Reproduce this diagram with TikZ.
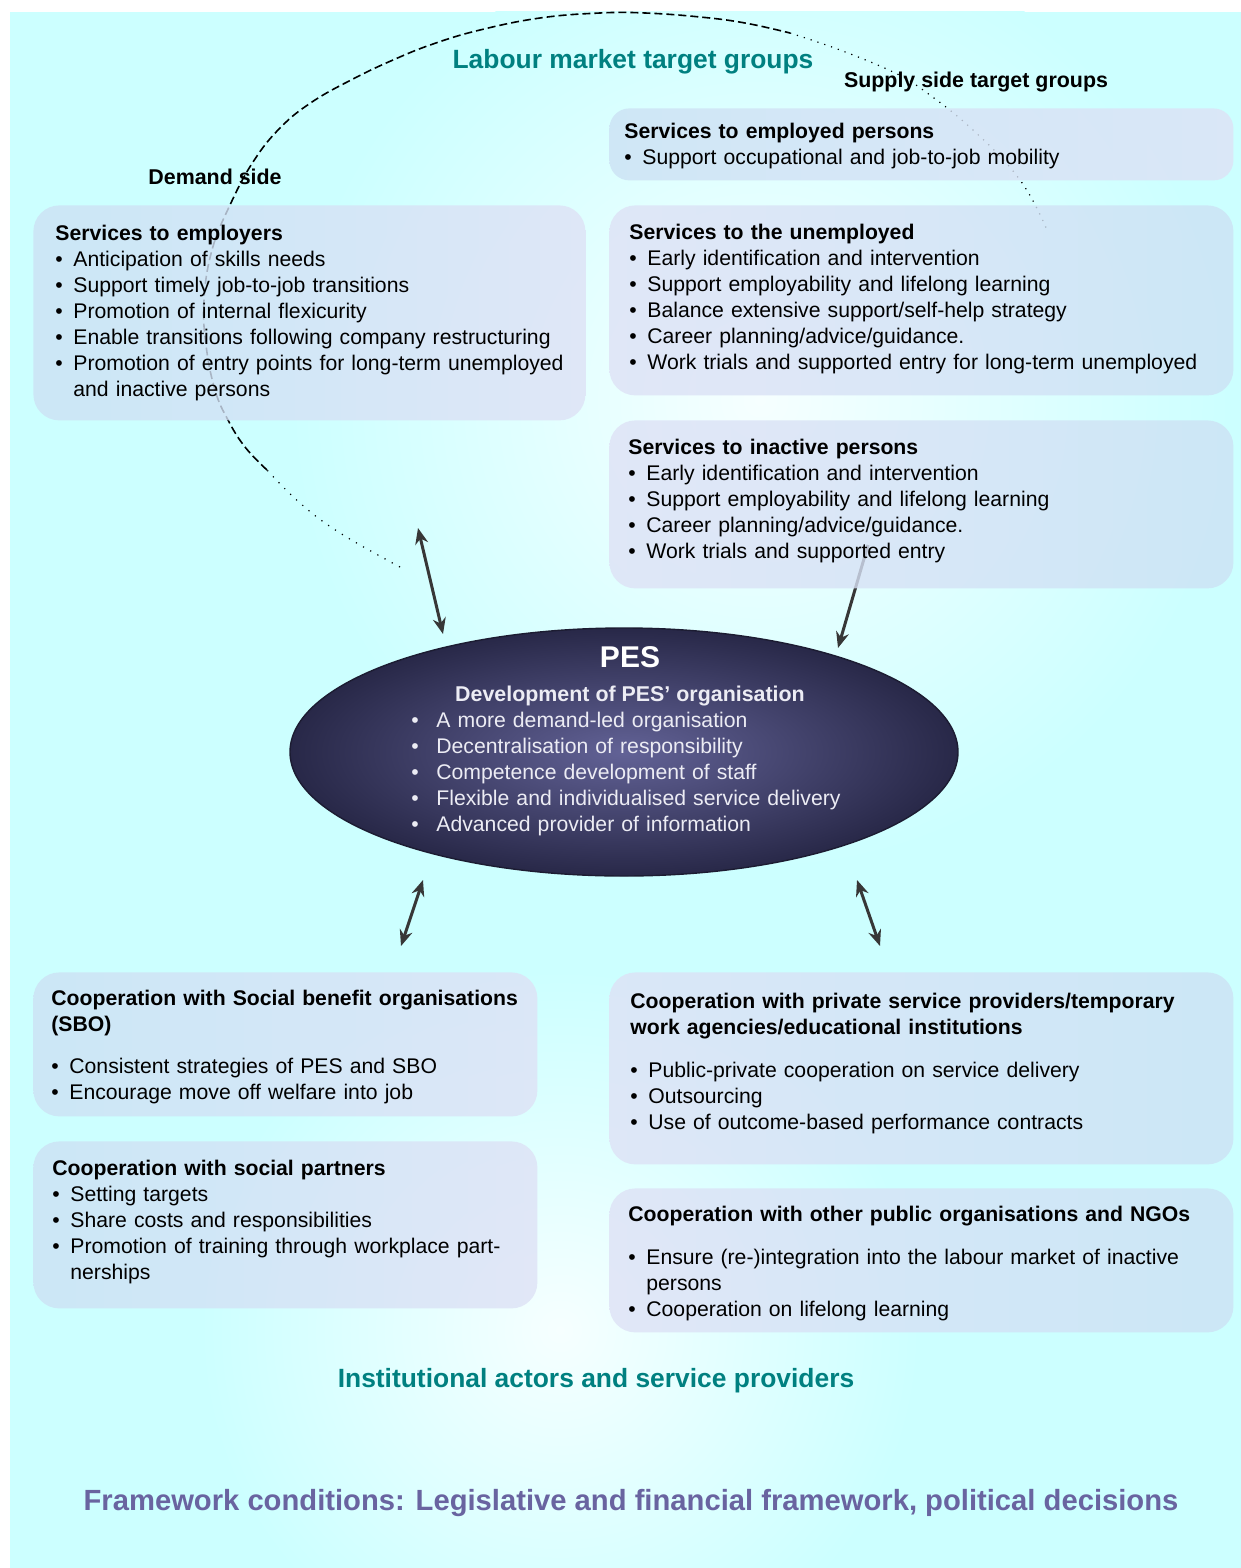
\documentclass[tikz,border=0pt]{standalone}
\usepackage{fontspec}
\setmainfont{Liberation Sans}
\usetikzlibrary{shapes.geometric,arrows.meta}
\definecolor{bgcyan}{RGB}{204,255,255}
\definecolor{glow}{RGB}{246,255,255}
\definecolor{boxblue}{RGB}{204,226,244}
\definecolor{boxlav}{RGB}{222,226,246}
\definecolor{pesin}{RGB}{98,98,150}
\definecolor{pesout}{RGB}{40,40,72}
\definecolor{tealtxt}{RGB}{0,128,128}
\definecolor{frametxt}{RGB}{105,100,160}
\definecolor{arrowgray}{RGB}{55,55,55}
\definecolor{pestxt}{RGB}{236,236,244}
\newcommand{\bitem}[1]{\par\hangindent=9pt\hangafter=1\noindent\makebox[9pt][l]{\textbullet}#1\par}
\newcommand{\eitem}[1]{\par\hangindent=12.5pt\hangafter=1\noindent\makebox[12.5pt][l]{\textbullet}#1\par}
\tikzstyle{svc}=[anchor=north west, inner sep=0pt, rounded corners=13pt,
    left color=boxblue, right color=boxlav, fill opacity=0.8]
\tikzstyle{svcr}=[svc, left color=boxlav, right color=boxblue]
\tikzstyle{svctext}=[anchor=north west, inner sep=0pt, align=left,
    font=\fontsize{10.6}{13}\selectfont]
\tikzstyle{pesell}=[ellipse, minimum width=334pt, minimum height=124pt,
    inner color=pesin, outer color=pesout, draw=pesout!70!black, line width=0.7pt]
\tikzstyle{link}=[draw=arrowgray, line width=1.5pt,
    {Stealth[length=8pt,width=6.5pt]}-{Stealth[length=8pt,width=6.5pt]}]
\tikzstyle{linkone}=[draw=arrowgray, line width=1.5pt, -{Stealth[length=8pt,width=6.5pt]}]
\tikzstyle{grouplbl}=[font=\bfseries\fontsize{13.2}{15}\selectfont, text=tealtxt]
\tikzstyle{sidelbl}=[font=\bfseries\fontsize{10.7}{13}\selectfont]

\begin{document}
\begin{tikzpicture}[x=0.5pt,y=-0.5pt]
    \useasboundingbox (0,0) rectangle (1241,1568);

    % background with two light glows
    \fill[bgcyan] (10,12) rectangle (1241,1568);
    \begin{scope}
        \clip (10,12) rectangle (1241,1568);
        \shade[inner color=glow, outer color=bgcyan] (760,400) circle (470);
        \shade[inner color=glow, outer color=bgcyan] (560,1330) circle (360);
    \end{scope}

    % target group ring
    \draw[line width=0.8pt, dash pattern=on 4pt off 2pt] plot[smooth, tension=0.7] coordinates
        {(267,470) (245,447) (228,420) (215,390) (206,345) (204,300) (212,250) (230,205)
         (253,162) (280,128) (312,102) (353,79) (393,60) (433,44) (480,30) (540,18)
         (600,13) (645,13) (700,17) (745,23) (790,33)};
    \draw[line width=0.6pt, dash pattern=on 0.6pt off 3pt] plot[smooth, tension=0.7] coordinates
        {(790,33) (840,50) (893,72) (923,90) (973,130) (1020,180) (1047,230)};
    \draw[line width=0.6pt, dash pattern=on 0.6pt off 3.5pt] plot[smooth, tension=0.7] coordinates
        {(400,567) (340,533) (300,503) (267,470)};

    %%% arrows
    \coordinate (dem1) at (418,528);
    \coordinate (dem2) at (443,634);
    \coordinate (sup1) at (868,545);
    \coordinate (sup2) at (838,648);
    \coordinate (ins1) at (423,880);
    \coordinate (ins2) at (401,946);
    \coordinate (oth1) at (857,880);
    \coordinate (oth2) at (880,946);
    \path [link] (dem1) -- (dem2);
    \path [linkone] (sup1) -- (sup2);
    \path [link] (ins1) -- (ins2);
    \path [link] (oth1) -- (oth2);

    % service boxes
    \node (employed) [svc, rounded corners=10pt, minimum width=312pt, minimum height=36pt] at (609,108) {};
    \node (employers) [svc, minimum width=276pt, minimum height=107.5pt] at (33,205) {};
    \node (unemployed) [svcr, minimum width=312pt, minimum height=95pt] at (609,205) {};
    \node (inactive) [svcr, minimum width=312pt, minimum height=84pt] at (609,420) {};
    \node (sbo) [svc, minimum width=252pt, minimum height=72pt] at (33,972) {};
    \node (partners) [svc, minimum width=252pt, minimum height=83.5pt] at (33,1141) {};
    \node (private) [svcr, minimum width=312pt, minimum height=96pt] at (609,972) {};
    \node (ngo) [svcr, minimum width=312pt, minimum height=72pt] at (609,1188) {};

    \path (employed.north west)+(15,15) node (employedtx) [svctext, text width=300pt]
        {\textbf{Services to employed persons}
         \bitem{Support occupational and job-to-job mobility}};
    \path (employers.north west)+(22,20) node (employerstx) [svctext, text width=270pt]
        {\textbf{Services to employers}
         \bitem{Anticipation of skills needs}
         \bitem{Support timely job-to-job transitions}
         \bitem{Promotion of internal flexicurity}
         \bitem{Enable transitions following company restructuring}
         \bitem{Promotion of entry points for long-term unemployed\newline and inactive persons}};
    \path (unemployed.north west)+(20,19) node (unemployedtx) [svctext, text width=300pt]
        {\textbf{Services to the unemployed}
         \bitem{Early identification and intervention}
         \bitem{Support employability and lifelong learning}
         \bitem{Balance extensive support/self-help strategy}
         \bitem{Career planning/advice/guidance.}
         \bitem{Work trials and supported entry for long-term unemployed}};
    \path (inactive.north west)+(19,19) node (inactivetx) [svctext, text width=300pt]
        {\textbf{Services to inactive persons}
         \bitem{Early identification and intervention}
         \bitem{Support employability and lifelong learning}
         \bitem{Career planning/advice/guidance.}
         \bitem{Work trials and supported entry}};
    \path (sbo.north west)+(18,18) node (sbotx) [svctext, text width=245pt]
        {\textbf{Cooperation with Social benefit organisations\newline (SBO)}\par\vspace{8pt}
         \bitem{Consistent strategies of PES and SBO}
         \bitem{Encourage move off welfare into job}};
    \path (partners.north west)+(19,19) node (partnerstx) [svctext, text width=245pt]
        {\textbf{Cooperation with social partners}
         \bitem{Setting targets}
         \bitem{Share costs and responsibilities}
         \bitem{Promotion of training through workplace part-\newline nerships}};
    \path (private.north west)+(21,21) node (privatetx) [svctext, text width=300pt]
        {\textbf{Cooperation with private service providers/temporary\newline work agencies/educational institutions}\par\vspace{8.5pt}
         \bitem{Public-private cooperation on service delivery}
         \bitem{Outsourcing}
         \bitem{Use of outcome-based performance contracts}};
    \path (ngo.north west)+(19,18) node (ngotx) [svctext, text width=300pt]
        {\textbf{Cooperation with other public organisations and NGOs}\par\vspace{8.5pt}
         \bitem{Ensure (re-)integration into the labour market of inactive\newline persons}
         \bitem{Cooperation on lifelong learning}};

    % PES in the middle
    \node (pes) [pesell] at (624,752) {};
    \node (pestitle) [text=white, font=\bfseries\fontsize{15}{17}\selectfont] at (630,657) {PES};
    \path (pestitle.south)+(0,21) node (pessub) [text=pestxt, font=\bfseries\fontsize{10.7}{13}\selectfont] {Development of PES’ organisation};
    \node (peslist) [svctext, text=pestxt, text width=240pt] at (411,701)
        {\eitem{A more demand-led organisation}
         \eitem{Decentralisation of responsibility}
         \eitem{Competence development of staff}
         \eitem{Flexible and individualised service delivery}
         \eitem{Advanced provider of information}};

    % group labels
    \node (labour) [grouplbl] at (633,62) {Labour market target groups};
    \node (supply) [sidelbl] at (976,82) {Supply side target groups};
    \node (demand) [sidelbl] at (215,177) {Demand side};
    \node (actors) [grouplbl] at (596,1381) {Institutional actors and service providers};
    \node (frame) [font=\bfseries\fontsize{14.6}{17}\selectfont, text=frametxt] at (631,1503)
        {Framework conditions: Legislative and financial framework, political decisions};
\end{tikzpicture}
\end{document}
